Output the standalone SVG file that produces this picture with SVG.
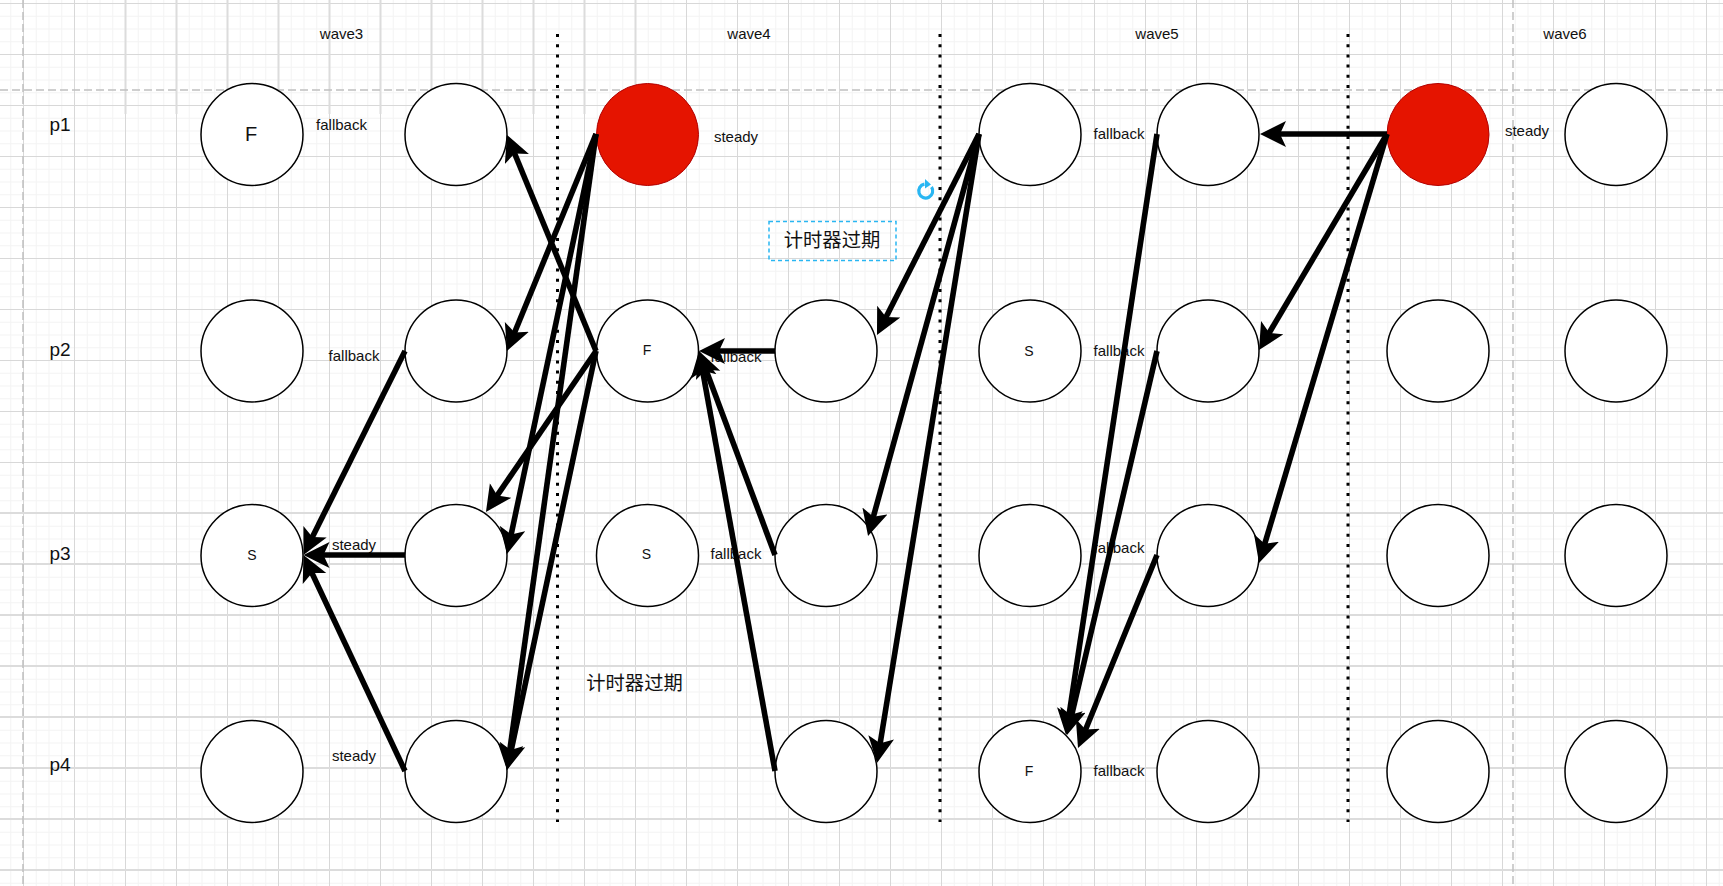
<svg xmlns="http://www.w3.org/2000/svg" width="1723" height="886" viewBox="0 0 1723 886">
<style>
.n{fill:#fff;stroke:#000;stroke-width:1.5}
.r{fill:#e51400;stroke:#b20000;stroke-width:1}
text{font-family:"Liberation Sans",Arial,sans-serif;font-size:15px;fill:#111;text-anchor:middle}
.p{font-size:19px;text-anchor:start}
.c{font-size:14px}
.z{font-family:"Liberation Sans","Noto Sans CJK SC",sans-serif;font-size:19.3px}
.e{fill:none;stroke:#000;stroke-width:5.600}
.d{fill:none;stroke:#000;stroke-width:3;stroke-dasharray:3 7.2}
.b{fill:none;stroke:#c0c0c0;stroke-width:1.5;stroke-dasharray:8 4}
</style>
<defs>
<pattern id="minor" width="12.75" height="12.75" patternUnits="userSpaceOnUse" x="23" y="3"><path d="M0.5 0V12.75M0 0.5H12.75" fill="none" stroke="#f3f3f3" stroke-width="1"/></pattern>
<pattern id="major" width="51" height="51" patternUnits="userSpaceOnUse" x="23" y="3"><path d="M0.5 0V51M0 0.5H51" fill="none" stroke="#d8d8d8" stroke-width="1"/></pattern>
<marker id="a" markerUnits="userSpaceOnUse" markerWidth="30" markerHeight="30" refX="16" refY="13" orient="auto" viewBox="0 0 30 30"><path d="M26 13L0 0L6 13L0 26Z" fill="#000"/></marker>
</defs>
<rect width="1723" height="886" fill="#fff"/>
<rect width="1723" height="886" fill="url(#minor)"/>
<rect width="1723" height="886" fill="url(#major)"/>
<g id="grid-heavy" fill="none" stroke="#dcdcdc" stroke-width="2">
<path d="M125.5 0V114M176.5 0V114M227.5 0V114M278.5 0V114M329.5 0V114M380.5 0V114M431.5 0V114M482.5 0V114M533.5 0V114M584.5 0V114M635.5 0V114"/>
<path d="M0 513H1723M0 564H1723M0 615H1723M0 666H1723M0 717H1723M0 768H1723M0 819H1723M0 870H1723"/>
</g>
<g id="page-breaks">
<path class="b" d="M0 90H1723"/>
<path class="b" d="M23 0V886"/>
<path class="b" d="M1513 0V886"/>
</g>
<g id="separators">
<path class="d" d="M557.5 34V822"/>
<path class="d" d="M940 34V822"/>
<path class="d" d="M1348 34V822"/>
</g>
<g id="labels">
<text x="341.5" y="39">wave3</text>
<text x="749" y="39">wave4</text>
<text x="1157" y="39">wave5</text>
<text x="1565" y="39">wave6</text>
<text class="p" x="49.500" y="131">p1</text>
<text class="p" x="49.500" y="356">p2</text>
<text class="p" x="49.500" y="560">p3</text>
<text class="p" x="49.500" y="771">p4</text>
<text x="341.500" y="130">fallback</text>
<text x="736" y="142">steady</text>
<text x="1119" y="139">fallback</text>
<text x="1527" y="136">steady</text>
<text x="354" y="361">fallback</text>
<text x="736" y="362">fallback</text>
<text x="736" y="559">fallback</text>
<text x="1119" y="356">fallback</text>
<text x="1119" y="553">fallback</text>
<text x="1119" y="776">fallback</text>
<text x="354" y="550">steady</text>
<text x="354" y="761">steady</text>
<text class="z" x="634.500" y="690">计时器过期</text>
</g>
<g id="n-1-1"><circle class="n" cx="252" cy="134.500" r="51"/><text x="251" y="141" style="font-size:20px">F</text></g>
<g id="n-1-2"><circle class="n" cx="252" cy="351" r="51"/></g>
<g id="n-1-3"><circle class="n" cx="252" cy="555.500" r="51"/><text class="c" x="252" y="560">S</text></g>
<g id="n-1-4"><circle class="n" cx="252" cy="771.500" r="51"/></g>
<g id="n-2-1"><circle class="n" cx="456" cy="134.500" r="51"/></g>
<g id="n-2-2"><circle class="n" cx="456" cy="351" r="51"/></g>
<g id="n-2-3"><circle class="n" cx="456" cy="555.500" r="51"/></g>
<g id="n-2-4"><circle class="n" cx="456" cy="771.500" r="51"/></g>
<g id="n-3-1"><circle class="r" cx="647.500" cy="134.500" r="51"/></g>
<g id="n-3-2"><circle class="n" cx="647.500" cy="351" r="51"/><text class="c" x="647" y="355">F</text></g>
<g id="n-3-3"><circle class="n" cx="647.500" cy="555.500" r="51"/><text class="c" x="646.500" y="559">S</text></g>
<g id="n-4-2"><circle class="n" cx="826" cy="351" r="51"/></g>
<g id="n-4-3"><circle class="n" cx="826" cy="555.500" r="51"/></g>
<g id="n-4-4"><circle class="n" cx="826" cy="771.500" r="51"/></g>
<g id="n-5-1"><circle class="n" cx="1030" cy="134.500" r="51"/></g>
<g id="n-5-2"><circle class="n" cx="1030" cy="351" r="51"/><text class="c" x="1029" y="356">S</text></g>
<g id="n-5-3"><circle class="n" cx="1030" cy="555.500" r="51"/></g>
<g id="n-5-4"><circle class="n" cx="1030" cy="771.500" r="51"/><text class="c" x="1029" y="776">F</text></g>
<g id="n-6-1"><circle class="n" cx="1208" cy="134.500" r="51"/></g>
<g id="n-6-2"><circle class="n" cx="1208" cy="351" r="51"/></g>
<g id="n-6-3"><circle class="n" cx="1208" cy="555.500" r="51"/></g>
<g id="n-6-4"><circle class="n" cx="1208" cy="771.500" r="51"/></g>
<g id="n-7-1"><circle class="r" cx="1438" cy="134.500" r="51"/></g>
<g id="n-7-2"><circle class="n" cx="1438" cy="351" r="51"/></g>
<g id="n-7-3"><circle class="n" cx="1438" cy="555.500" r="51"/></g>
<g id="n-7-4"><circle class="n" cx="1438" cy="771.500" r="51"/></g>
<g id="n-8-1"><circle class="n" cx="1616" cy="134.500" r="51"/></g>
<g id="n-8-2"><circle class="n" cx="1616" cy="351" r="51"/></g>
<g id="n-8-3"><circle class="n" cx="1616" cy="555.500" r="51"/></g>
<g id="n-8-4"><circle class="n" cx="1616" cy="771.500" r="51"/></g>
<g id="timer-note">
<rect x="769" y="221.500" width="127" height="39" fill="none" stroke="#29b6f2" stroke-width="1.5" stroke-dasharray="4 3"/>
<text class="z" x="832" y="247">计时器过期</text>
</g>
<g id="rotate-handle">
<path d="M931.500 187A7 7 0 1 1 924.500 184.100" fill="none" stroke="#29b6f2" stroke-width="3.200"/>
<path d="M925 179L931 184.500L925 188.500Z" fill="#29b6f2"/>
</g>
<g id="connectors">
<path class="e" marker-end="url(#a)" d="M596 351L510.800 144.200"/>
<path class="e" marker-end="url(#a)" d="M596 134L510.800 341.700"/>
<path class="e" marker-end="url(#a)" d="M596 134L509.100 544.200"/>
<path class="e" marker-end="url(#a)" d="M596 134L508.400 760.100"/>
<path class="e" marker-end="url(#a)" d="M596 351L491.600 503.700"/>
<path class="e" marker-end="url(#a)" d="M596 351L509.100 760.200"/>
<path class="e" marker-end="url(#a)" d="M405 351L307.900 546"/>
<path class="e" marker-end="url(#a)" d="M405 555L313.500 555"/>
<path class="e" marker-end="url(#a)" d="M405 771L307.700 564"/>
<path class="e" marker-end="url(#a)" d="M775 351L709 351"/>
<path class="e" marker-end="url(#a)" d="M775 555L702.500 360.400"/>
<path class="e" marker-end="url(#a)" d="M775 771L700.800 360.800"/>
<path class="e" marker-end="url(#a)" d="M979 134L881.500 326"/>
<path class="e" marker-end="url(#a)" d="M979 134L870.700 526.400"/>
<path class="e" marker-end="url(#a)" d="M979 134L878.600 753.100"/>
<path class="e" marker-end="url(#a)" d="M1157 134L1067.500 725.100"/>
<path class="e" marker-end="url(#a)" d="M1157 351L1069.300 725.300"/>
<path class="e" marker-end="url(#a)" d="M1157 555L1081.800 738.700"/>
<path class="e" marker-end="url(#a)" d="M1387 134L1270 134"/>
<path class="e" marker-end="url(#a)" d="M1387 134L1264.100 341.400"/>
<path class="e" marker-end="url(#a)" d="M1387 134L1261.900 553.400"/>
</g>
</svg>
